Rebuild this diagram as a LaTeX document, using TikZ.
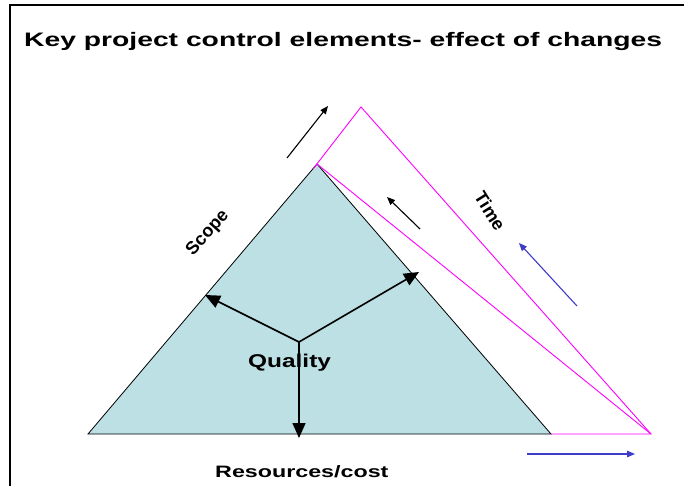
\documentclass[tikz,border=0pt]{standalone}
\usepackage{fontspec}
\usepackage{graphicx}
\setmainfont{Liberation Sans}
\usetikzlibrary{arrows.meta}
\definecolor{tri}{RGB}{188,224,227}
\definecolor{mag}{RGB}{255,0,255}
\definecolor{dirblue}{RGB}{60,60,200}
\tikzset{
  lbl/.style={inner sep=0pt, font=\bfseries},
  smallarrow/.style={line width=1.1pt, -{Triangle[length=8pt,width=6.5pt]}},
  bluearrow/.style={smallarrow, draw=dirblue},
  qarrow/.style={line width=1.6pt, -{Triangle[length=15pt,width=13pt]}},
  outline/.style={draw=mag, line width=0.9pt},
}
\begin{document}
\begin{tikzpicture}[x=1pt,y=-1pt]
\useasboundingbox (0,0) rectangle (684,486);
% frame
\draw[line width=2pt] (10,490) -- (10,5) -- (690,5);

% title
\node[lbl, anchor=base west] (title) at (24,47)
  {\fontsize{19.5}{22}\selectfont\scalebox{1.45}[1]{Key project control elements- effect of changes}};

% triangle corners
\coordinate (bl) at (88,434);
\coordinate (apex) at (317,164);
\coordinate (br) at (551,434);
% shifted outline corners
\coordinate (top2) at (361,107);
\coordinate (far) at (651,434);
\coordinate (low2) at (313,169);

% project triangle
\draw[fill=tri, line width=0.8pt] (bl) -- (apex) -- (br) -- cycle;

% changed outline
\draw[outline] (low2) -- (top2) -- (far) -- (br);
\draw[outline] (apex) -- (far);

% change arrows
\coordinate (a1s) at (287,158); \coordinate (a1e) at (328,106);
\coordinate (a2s) at (420,229); \coordinate (a2e) at (387,197);
\coordinate (b1s) at (577,306); \coordinate (b1e) at (519,243);
\coordinate (b2s) at (527,454); \coordinate (b2e) at (635,454);
\draw[smallarrow] (a1s) -- (a1e);
\draw[smallarrow] (a2s) -- (a2e);
\draw[bluearrow] (b1s) -- (b1e);
\draw[bluearrow] (b2s) -- (b2e);

% quality arrows
\coordinate (q) at (299,342);
\coordinate (qL) at (205,295);
\coordinate (qR) at (419,272);
\coordinate (qD) at (299,438);
\draw[qarrow] (q) -- (qL);
\draw[qarrow] (q) -- (qR);
\draw[qarrow] (q) -- (qD);

% labels
\node[lbl, anchor=base west] (quality) at (248,367)
  {\fontsize{18.5}{20}\selectfont\scalebox{1.32}[1]{Quality}};
\node[lbl, anchor=base west] (cost) at (215,477)
  {\fontsize{16.5}{18}\selectfont\scalebox{1.41}[1]{Resources/cost}};
\node[lbl, rotate=48] (scope) at (208,233)
  {\fontsize{18}{20}\selectfont Scope};
\node[lbl, rotate=-58] (time) at (490,211)
  {\fontsize{18}{20}\selectfont Time};
\end{tikzpicture}
\end{document}
